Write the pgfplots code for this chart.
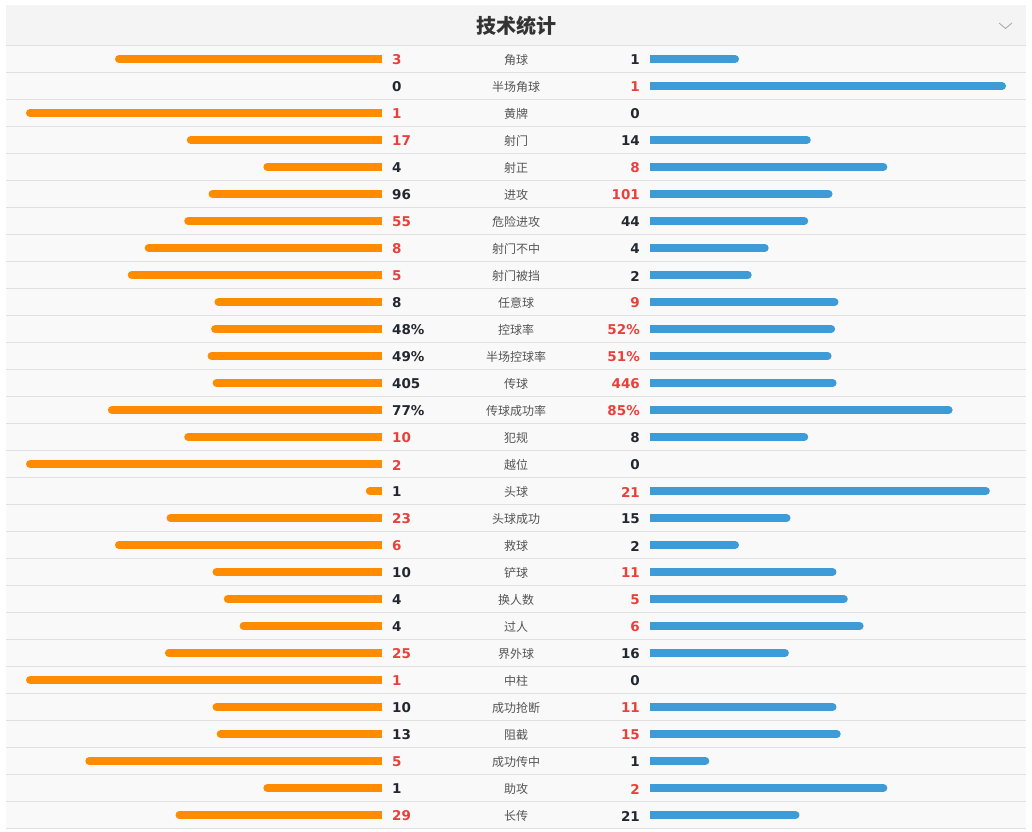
\documentclass[border=0pt]{standalone}
\usepackage{pgfplots}
\usepackage{pgfplotstable}
\pgfplotsset{compat=1.18}
\usepackage{fontspec}
\setmainfont{DejaVu Sans}
\newfontfamily\cjk{Noto Sans CJK SC}

\definecolor{homeorange}{HTML}{FF8C00}
\definecolor{awayblue}{HTML}{3D9BD8}
\definecolor{winred}{HTML}{E8413C}
\definecolor{numdark}{HTML}{232830}
\definecolor{catgray}{HTML}{555555}
\definecolor{titledark}{HTML}{333333}
\definecolor{headbg}{HTML}{F4F4F4}
\definecolor{rowbg}{HTML}{F9F9F9}
\definecolor{rulegray}{HTML}{E0E0E0}

% the larger figure of each pair is set in red
\newcommand\Win[1]{\textcolor{winred}{#1}}
\newcommand\Lose[1]{\textcolor{numdark}{#1}}
\newcommand\numfont{\bfseries\fontsize{13.5bp}{13.5bp}\selectfont}

% k: row, h/a: home/away value, d: value that fills a whole bar
\pgfplotstableread{
k  cat        h    a    d    hl             al
1  角球        3    1    4    \Win{3}        \Lose{1}
2  半场角球    0    1    1    \Lose{0}       \Win{1}
3  黄牌        1    0    1    \Win{1}        \Lose{0}
4  射门        17   14   31   \Win{17}       \Lose{14}
5  射正        4    8    12   \Lose{4}       \Win{8}
6  进攻        96   101  197  \Lose{96}      \Win{101}
7  危险进攻    55   44   99   \Win{55}       \Lose{44}
8  射门不中    8    4    12   \Win{8}        \Lose{4}
9  射门被挡    5    2    7    \Win{5}        \Lose{2}
10 任意球      8    9    17   \Lose{8}       \Win{9}
11 控球率      48   52   100  \Lose{48\%}    \Win{52\%}
12 半场控球率  49   51   100  \Lose{49\%}    \Win{51\%}
13 传球        405  446  851  \Lose{405}     \Win{446}
14 传球成功率  77   85   100  \Lose{77\%}    \Win{85\%}
15 犯规        10   8    18   \Win{10}       \Lose{8}
16 越位        2    0    2    \Win{2}        \Lose{0}
17 头球        1    21   22   \Lose{1}       \Win{21}
18 头球成功    23   15   38   \Win{23}       \Lose{15}
19 救球        6    2    8    \Win{6}        \Lose{2}
20 铲球        10   11   21   \Lose{10}      \Win{11}
21 换人数      4    5    9    \Lose{4}       \Win{5}
22 过人        4    6    10   \Lose{4}       \Win{6}
23 界外球      25   16   41   \Win{25}       \Lose{16}
24 中柱        1    0    1    \Win{1}        \Lose{0}
25 成功抢断    10   11   21   \Lose{10}      \Win{11}
26 阻截        13   15   28   \Lose{13}      \Win{15}
27 成功传中    5    1    6    \Win{5}        \Lose{1}
28 助攻        1    2    3    \Lose{1}       \Win{2}
29 长传        29   21   50   \Win{29}       \Lose{21}
}\stats

\begin{document}
\begin{tikzpicture}
\begin{axis}[
  set layers,
  x=1bp, y=27bp, y dir=reverse,
  xmin=0, xmax=1032, ymin=-1.185185, ymax=29.592593,
  hide axis, clip=false,
  % full bar = 356 units; bars grow outwards from x=382 and x=650
  barstyle/.style={line width=8bp, quiver={v=0, every arrow/.style={-}}},
  labelstyle/.style={draw=none, mark=none, nodes near coords,
    point meta=explicit symbolic},
]
\begin{pgfonlayer}{axis background}
  \fill[white] (rel axis cs:0,0) rectangle (rel axis cs:1,1);
  \fill[headbg] (axis cs:6,-1) rectangle (axis cs:1026,0.5);
  \fill[rowbg] (axis cs:6,0.5) rectangle (axis cs:1026,29.5);
  \pgfplotsinvokeforeach{0.5,1.5,...,29.5}{
    \draw[rulegray, line width=1.2bp] (axis cs:6,#1) -- (axis cs:1026,#1);
  }
  \draw[gray!70, line width=0.8bp] (axis cs:999,-0.333) -- (axis cs:1005.5,-0.130) -- (axis cs:1012,-0.333);
\end{pgfonlayer}

\node[font=\cjk\bfseries\fontsize{20bp}{20bp}\selectfont, text=titledark]
  at (axis cs:516,-0.222) {技术统计};

% home bars: rounded outer end, square inner end
\addplot[barstyle, draw=homeorange, line cap=round,
  quiver={u={356*\thisrow{h}/\thisrow{d}-8}},
  restrict expr to domain={\thisrow{h}}{0.5:100000}]
  table[x expr={382-356*\thisrow{h}/\thisrow{d}+4}, y=k] {\stats};
\addplot[barstyle, draw=homeorange, line cap=butt,
  quiver={u={178*\thisrow{h}/\thisrow{d}}},
  restrict expr to domain={\thisrow{h}}{0.5:100000}]
  table[x expr={382-178*\thisrow{h}/\thisrow{d}}, y=k] {\stats};

% away bars
\addplot[barstyle, draw=awayblue, line cap=round,
  quiver={u={356*\thisrow{a}/\thisrow{d}-8}},
  restrict expr to domain={\thisrow{a}}{0.5:100000}]
  table[x expr=654, y=k] {\stats};
\addplot[barstyle, draw=awayblue, line cap=butt,
  quiver={u={178*\thisrow{a}/\thisrow{d}}},
  restrict expr to domain={\thisrow{a}}{0.5:100000}]
  table[x expr=650, y=k] {\stats};

% value labels and category names
\addplot[labelstyle, every node near coord/.style={anchor=west, inner sep=0pt,
    yshift=-1bp, font=\numfont}]
  table[x expr=392, y=k, meta=hl] {\stats};
\addplot[labelstyle, every node near coord/.style={anchor=east, inner sep=0pt,
    yshift=-1bp, font=\numfont}]
  table[x expr=640, y=k, meta=al] {\stats};
\addplot[labelstyle, every node near coord/.style={anchor=center, inner sep=0pt,
    yshift=-1bp, font=\cjk\fontsize{12bp}{12bp}\selectfont, text=catgray}]
  table[x expr=516, y=k, meta=cat] {\stats};
\end{axis}
\end{tikzpicture}
\end{document}
